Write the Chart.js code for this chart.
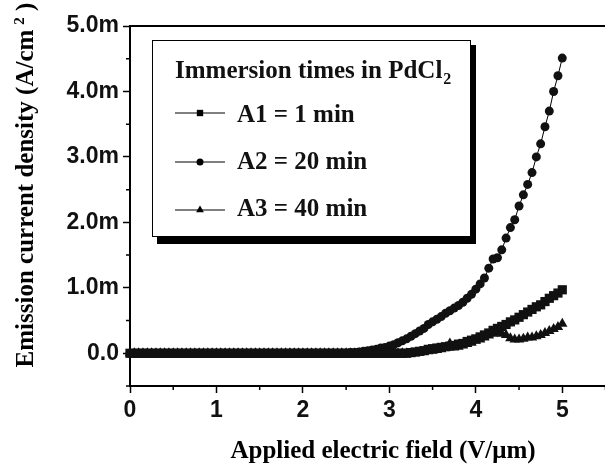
<!DOCTYPE html>
<html>
<head>
<meta charset="utf-8">
<script src="https://cdn.jsdelivr.net/npm/chart.js@4/dist/chart.umd.min.js"></script>
<style>
  html, body { margin: 0; padding: 0; background: #fff; }
  #wrap { width: 605px; height: 464px; overflow: hidden; position: relative; }
  canvas { display: block; }
</style>
</head>
<body>
<div id="wrap"><canvas id="chart" width="612" height="464"></canvas></div>
<script>
// applied field, V/um
const fields = [
  0.00, 0.05, 0.10, 0.15, 0.20, 0.25, 0.30, 0.35, 0.40, 0.45,
  0.50, 0.55, 0.60, 0.65, 0.70, 0.75, 0.80, 0.85, 0.90, 0.95,
  1.00, 1.05, 1.10, 1.15, 1.20, 1.25, 1.30, 1.35, 1.40, 1.45,
  1.50, 1.55, 1.60, 1.65, 1.70, 1.75, 1.80, 1.85, 1.90, 1.95,
  2.00, 2.05, 2.10, 2.15, 2.20, 2.25, 2.30, 2.35, 2.40, 2.45,
  2.50, 2.55, 2.60, 2.65, 2.70, 2.75, 2.80, 2.85, 2.90, 2.95,
  3.00, 3.05, 3.10, 3.15, 3.20, 3.25, 3.30, 3.35, 3.40, 3.45,
  3.50, 3.55, 3.60, 3.65, 3.70, 3.75, 3.80, 3.85, 3.90, 3.95,
  4.00, 4.05, 4.10, 4.15, 4.20, 4.25, 4.30, 4.35, 4.40, 4.45,
  4.50, 4.55, 4.60, 4.65, 4.70, 4.75, 4.80, 4.85, 4.90, 4.95,
  5.00
];

// current density in mA/cm2 (shown as "m" on the axis)
const a1 = [
  0, 0, 0, 0, 0, 0, 0, 0, 0, 0,
  0, 0, 0, 0, 0, 0, 0, 0, 0, 0,
  0, 0, 0, 0, 0, 0, 0, 0, 0, 0,
  0, 0, 0, 0, 0, 0, 0, 0, 0, 0,
  0, 0, 0, 0, 0, 0, 0, 0, 0, 0,
  0, 0, 0, 0, 0, 0, 0, 0, 0, 0,
  0, 0, 0, 0, 0, 0.01, 0.02, 0.03, 0.04, 0.06,
  0.07, 0.08, 0.09, 0.10, 0.11, 0.12, 0.14, 0.15, 0.18, 0.20,
  0.22, 0.25, 0.28, 0.31, 0.35, 0.38, 0.41, 0.44, 0.48, 0.51,
  0.55, 0.59, 0.63, 0.67, 0.71, 0.74, 0.79, 0.84, 0.88, 0.92,
  0.97
];

const a2 = [
  0, 0, 0, 0, 0, 0, 0, 0, 0, 0,
  0, 0, 0, 0, 0, 0, 0, 0, 0, 0,
  0, 0, 0, 0, 0, 0, 0, 0, 0, 0,
  0, 0, 0, 0, 0, 0, 0, 0, 0, 0,
  0, 0, 0, 0, 0, 0, 0, 0, 0, 0,
  0, 0.01, 0.01, 0.02, 0.03, 0.04, 0.05, 0.06, 0.08, 0.09,
  0.11, 0.13, 0.16, 0.19, 0.22, 0.26, 0.30, 0.34, 0.38, 0.44,
  0.48, 0.52, 0.56, 0.61, 0.65, 0.69, 0.73, 0.78, 0.84, 0.90,
  0.98, 1.06, 1.15, 1.30, 1.44, 1.46, 1.58, 1.76, 1.92, 2.04,
  2.25, 2.42, 2.58, 2.76, 3.00, 3.20, 3.46, 3.70, 4.00, 4.24,
  4.51
];

const a3 = [
  0, 0, 0, 0, 0, 0, 0, 0, 0, 0,
  0, 0, 0, 0, 0, 0, 0, 0, 0, 0,
  0, 0, 0, 0, 0, 0, 0, 0, 0, 0,
  0, 0, 0, 0, 0, 0, 0, 0, 0, 0,
  0, 0, 0, 0, 0, 0, 0, 0, 0, 0,
  0, 0, 0, 0, 0, 0, 0, 0, 0, 0,
  0, 0, 0, 0, 0, 0, 0, 0.01, 0.02, 0.03,
  0.04, 0.05, 0.06, 0.08, 0.15, 0.09, 0.10, 0.12, 0.14, 0.16,
  0.19, 0.21, 0.24, 0.27, 0.30, 0.32, 0.30, 0.28, 0.23, 0.21,
  0.21, 0.22, 0.24, 0.24, 0.26, 0.28, 0.31, 0.34, 0.37, 0.40,
  0.45
];

const seriesLabels = ["A1 = 1 min", "A2 = 20 min", "A3 = 40 min"];
const legendTitle = "Immersion times in PdCl";
const xTitle = "Applied electric field (V/\u03bcm)";
const yTitle = "Emission current density (A/cm";

const serif = "'Liberation Serif', 'Times New Roman', serif";

function pts(ys) {
  return fields.map((f, i) => ({ x: f, y: ys[i] }));
}

function isMajor(v) {
  return Math.abs(v - Math.round(v)) < 1e-6;
}

// short minor ticks, frame top, axis titles and the boxed legend
const decor = {
  id: "decor",
  afterDraw(c) {
    const ctx = c.ctx;
    const area = c.chartArea;
    const xs = c.scales.x, ys = c.scales.y;
    ctx.save();
    ctx.strokeStyle = "#000";
    ctx.lineWidth = 1.5;
    ctx.beginPath();
    xs.ticks.forEach(t => {
      if (isMajor(t.value)) return;
      const px = xs.getPixelForValue(t.value);
      ctx.moveTo(px, area.bottom);
      ctx.lineTo(px, area.bottom + 4);
    });
    ys.ticks.forEach(t => {
      if (isMajor(t.value)) return;
      const py = ys.getPixelForValue(t.value);
      ctx.moveTo(area.left, py);
      ctx.lineTo(area.left - 4, py);
    });
    ctx.stroke();

    // top frame line
    ctx.lineWidth = 2;
    ctx.beginPath();
    ctx.moveTo(area.left, area.top);
    ctx.lineTo(area.right, area.top);
    ctx.stroke();

    // axis titles
    ctx.fillStyle = "#000";
    ctx.font = "bold 25px " + serif;
    ctx.textAlign = "center";
    ctx.textBaseline = "alphabetic";
    ctx.fillText(xTitle, 383, 458);

    ctx.save();
    ctx.translate(33, 185);
    ctx.rotate(-Math.PI / 2);
    ctx.textAlign = "left";
    const w1 = ctx.measureText(yTitle).width;
    ctx.font = "bold 15px " + serif;
    const w2 = ctx.measureText("2").width;
    ctx.font = "bold 25px " + serif;
    const w3 = ctx.measureText(" )").width;
    const gap = 5;
    let x0 = -(w1 + gap + w2 + w3) / 2;
    ctx.fillText(yTitle, x0, 0);
    ctx.font = "bold 15px " + serif;
    ctx.fillText("2", x0 + w1 + gap, -9);
    ctx.font = "bold 25px " + serif;
    ctx.fillText(" )", x0 + w1 + gap + w2, 0);
    ctx.restore();

    // legend box with shadow
    const bx = 152, by = 40, bw = 319, bh = 197;
    ctx.fillStyle = "#000";
    ctx.fillRect(bx + 5, by + 5, bw, bh + 2);
    ctx.fillStyle = "#fff";
    ctx.fillRect(bx, by, bw, bh);
    ctx.lineWidth = 1;
    ctx.strokeRect(bx + 0.5, by + 0.5, bw - 1, bh - 1);

    ctx.fillStyle = "#111";
    ctx.textAlign = "left";
    ctx.font = "bold 25px " + serif;
    ctx.fillText(legendTitle, 175, 78);
    const tw = ctx.measureText(legendTitle).width;
    ctx.font = "bold 16px " + serif;
    ctx.fillText("2", 175 + tw + 1, 84);

    const rows = [113, 162, 210];
    const bases = [122, 169, 216];
    c.data.datasets.forEach((ds, i) => {
      const y = rows[i];
      ctx.strokeStyle = "#000";
      ctx.lineWidth = 1;
      ctx.beginPath();
      ctx.moveTo(175, y);
      ctx.lineTo(225, y);
      ctx.stroke();
      ctx.fillStyle = "#000";
      Chart.helpers.drawPoint(ctx, {
        pointStyle: ds.pointStyle, radius: ds.pointStyle === "circle" ? 3.5 : 4.5, borderWidth: 0
      }, 200, y);
      ctx.fillStyle = "#111";
      ctx.font = "bold 25px " + serif;
      ctx.fillText(ds.label, 237, bases[i]);
    });
    ctx.restore();
  }
};

const common = {
  borderColor: "#000",
  backgroundColor: "#000",
  pointBackgroundColor: "#111",
  pointBorderColor: "#111",
  borderWidth: 1,
  pointBorderWidth: 0,
  tension: 0,
  clip: false
};

new Chart(document.getElementById("chart"), {
  type: "line",
  data: {
    datasets: [
      { ...common, label: seriesLabels[0], data: pts(a1), pointStyle: "rect", pointRadius: 6.5 },
      { ...common, label: seriesLabels[1], data: pts(a2), pointStyle: "circle", pointRadius: 4.5 },
      { ...common, label: seriesLabels[2], data: pts(a3), pointStyle: "triangle", pointRadius: 6 }
    ]
  },
  options: {
    responsive: false,
    animation: false,
    devicePixelRatio: 1,
    layout: { padding: { top: 26, right: 5, left: 0, bottom: 0 } },
    plugins: { legend: { display: false }, tooltip: { enabled: false } },
    scales: {
      x: {
        type: "linear",
        min: 0,
        max: 5.5,
        afterFit: s => { s.height = 78; },
        border: { display: true, color: "#000", width: 2 },
        grid: {
          drawOnChartArea: false,
          tickLength: 7,
          tickWidth: 1.5,
          tickColor: ctx => isMajor(ctx.tick.value) ? "#000" : "rgba(0,0,0,0)"
        },
        ticks: {
          stepSize: 0.5,
          color: "#111",
          padding: 4,
          maxRotation: 0,
          autoSkip: false,
          font: { family: "'Liberation Sans', Arial, sans-serif", weight: "bold", size: 23 },
          callback: v => isMajor(v) ? String(Math.round(v)) : ""
        }
      },
      y: {
        min: -0.5,
        max: 5,
        afterFit: s => { s.width = 130; },
        border: { display: true, color: "#000", width: 2 },
        grid: {
          drawOnChartArea: false,
          tickLength: 7,
          tickWidth: 1.5,
          tickColor: ctx => isMajor(ctx.tick.value) ? "#000" : "rgba(0,0,0,0)"
        },
        ticks: {
          stepSize: 0.5,
          color: "#111",
          padding: 4,
          autoSkip: false,
          font: { family: "'Liberation Sans', Arial, sans-serif", weight: "bold", size: 23 },
          callback: v => {
            if (!isMajor(v) || v < 0) return "";
            return v === 0 ? "0.0" : v.toFixed(1) + "m";
          }
        }
      }
    }
  },
  plugins: [decor]
});
</script>
</body>
</html>
